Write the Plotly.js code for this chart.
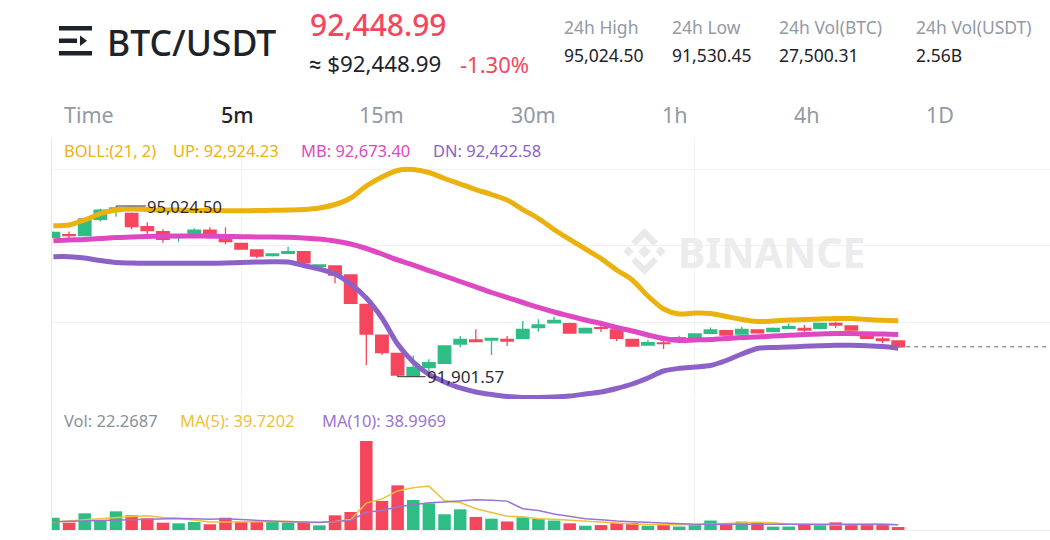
<!DOCTYPE html>
<html><head><meta charset="utf-8">
<script src="https://cdn.plot.ly/plotly-3.0.1.min.js"></script>
<style>html,body{margin:0;padding:0;background:#fff;overflow:hidden}#chart{width:1050px;height:540px}</style>
</head><body><div id="chart"></div>
<script>
// ---------- data (5m candles, oldest -> newest) ----------
const open  = [94450,94500,94481,94780,94950,94891,94646,94554,94445,94512,94585,94494,94342,94220,94115,94159,94188,93914,93927,93762,93226,92664,92330,91915,92070,92147,92500,92573,92573,92586,92604,92798,92885,92872,92706,92800,92760,92586,92481,92520,92600,92604,92696,92743,92683,92756,92725,92787,92787,92787,92878,92829,92695,92591,92555];
const high  = [94560,94560,94800,94975,95024.5,94905,94726,94598,94510,94616,94635,94635,94350,94225,94160,94280,94195,93960,93935,93770,93230,92670,92335,92290,92220,92470,92646,92768,92610,92646,92920,92952,93000,92890,92800,92925,92770,92590,92573,92590,92650,92690,92800,92750,92816,92765,92800,92878,92847,92890,92905,92835,92700,92633,92560];
const low   = [94435,94430,94470,94740,94830,94598,94512,94353,94370,94500,94500,94324,94225,94068,94100,94150,93950,93900,93610,93230,92116,92299,91901.57,91905,92000,92140,92439,92530,92299,92463,92600,92725,92880,92690,92700,92720,92550,92455,92475,92410,92595,92600,92690,92660,92680,92700,92720,92785,92725,92780,92787,92750,92600,92512,92440];
const close = [94540,94485,94787,94950,94990,94646,94573,94415,94460,94585,94525,94371,94238,94110,94146,94188,93985,93945,93762,93244,92683,92341,91933,92074,92160,92463,92586,92542,92604,92555,92769,92847,92930,92700,92787,92787,92604,92463,92523,92505,92615,92683,92756,92664,92769,92706,92787,92816,92756,92878,92847,92756,92604,92560,92448.99];
const volume = [92,55,125,75,140,110,88,55,50,60,43,92,60,60,60,55,60,35,110,135,668,218,335,225,200,118,155,98,85,64,95,84,71,50,32,37,53,53,32,37,26,45,71,50,63,58,25.4,26,45,37,57,40,39,40.3,22.2687];
const bollUp  = [94664,94677,94768,94887,94951,94970,94960,94951,94951,94942,94942,94938,94938,94942,94946,94951,94960,94988,95052,95171,95390,95555,95674,95692,95637,95528,95427,95326,95235,95134,94960,94796,94595,94412,94238,94064,93854,93671,93378,93140,93049,93067,93058,93003,92948,92911,92921,92939,92948,92957,92966,92966,92948,92933,92924.23];
const bollMid = [94390,94402,94412,94430,94448,94457,94467,94472,94476,94476,94472,94467,94463,94457,94457,94452,94439,94421,94384,94329,94247,94146,94037,93945,93844,93744,93643,93543,93442,93351,93259,93168,93085,93012,92939,92875,92802,92738,92665,92600,92564,92573,92582,92600,92619,92628,92646,92659,92674,92683,92692,92692,92686,92683,92673.40];
const bollDn  = [94097,94097,94073,94027,93991,93982,93976,93976,93976,93976,93976,93982,93991,94000,94005,94000,93936,93872,93780,93598,93341,92976,92500,92170,91942,91805,91695,91622,91576,91539,91521,91521,91530,91548,91585,91622,91686,91768,91878,92006,92055,92079,92106,92198,92317,92418,92436,92445,92458,92469,92476,92476,92469,92454,92422.58];
const volMa5  = [60,68,78,88,97.4,101,107.6,93.6,88.6,72.6,59.2,60,61,63,63,65.4,59,54,64,79,201.6,233.6,293.2,316.2,329.2,219.2,206.6,159.2,131.2,104,99.4,85.2,79.8,72.8,66.4,54.8,48.6,45,41.4,42.4,40.2,38.6,42.2,45.8,51,57.4,53.5,44.5,43.5,38.3,38.1,41,43.6,42.7,39.7202];
const volMa10 = [62,65,70,74,78,82,85,86,86,85,80.1,83.8,77.3,75.8,67.8,62.3,59.5,57.5,63.5,71,133.5,146.1,173.6,190.1,204.1,210.4,219.9,226.2,223.7,216.6,159.3,145.9,119.5,102,85.2,77.1,66.9,62.4,57.1,54.4,47.5,43.6,43.6,43.6,46.7,48.8,46,43.3,44.6,44.6,47.7,47.2,44,43.1,38.9969];

const symbol = "BTC/USDT";
const changePct = "-1.30%";
const statLabels = ["24h High","24h Low","24h Vol(BTC)","24h Vol(USDT)"];
const statValues = ["95,024.50","91,530.45","27,500.31","2.56B"];
const intervals = ["Time","5m","15m","30m","1h","4h","1D"];
const activeInterval = "5m";

// ---------- helpers ----------
const n = close.length;
const candleIdx = close.map((_, i) => i);
const GREEN = '#2EBD85', RED = '#F6465D';
const C_UP = '#EBB20F', C_MB = '#DF48C3', C_DN = '#8C62C9';
const C_MA5 = '#F0C03A', C_MA10 = '#9B74D1';
const DARK = '#1E2329', GRAY = '#929AA5';
const FONT = '"Noto Sans", Roboto, "DejaVu Sans", sans-serif';
const W = 1050, H = 540;
const PX = x => x / W, PY = y => 1 - y / H;
const fmt2 = v => v.toLocaleString('en-US', {minimumFractionDigits: 2, maximumFractionDigits: 2});
const fmt4 = v => v.toFixed(4);
const volColors = close.map((c, i) => c >= open[i] ? GREEN : RED);

// ---------- traces ----------
const traces = [
  {type: 'candlestick', x: candleIdx, open, high, low, close, xaxis: 'x', yaxis: 'y',
   whiskerwidth: 0, hoverinfo: 'skip',
   increasing: {line: {color: GREEN, width: 1.3}, fillcolor: GREEN},
   decreasing: {line: {color: RED, width: 1.3}, fillcolor: RED}},
  {type: 'scatter', mode: 'lines', x: candleIdx, y: bollUp, yaxis: 'y',
   line: {color: C_UP, width: 5, shape: 'spline', smoothing: 0.8}, hoverinfo: 'skip'},
  {type: 'scatter', mode: 'lines', x: candleIdx, y: bollMid, yaxis: 'y',
   line: {color: C_MB, width: 5, shape: 'spline', smoothing: 0.8}, hoverinfo: 'skip'},
  {type: 'scatter', mode: 'lines', x: candleIdx, y: bollDn, yaxis: 'y',
   line: {color: C_DN, width: 5, shape: 'spline', smoothing: 0.8}, hoverinfo: 'skip'},
  {type: 'bar', x: candleIdx, y: volume, yaxis: 'y2', marker: {color: volColors, line: {width: 0}}, hoverinfo: 'skip'},
  {type: 'scatter', mode: 'lines', x: candleIdx, y: volMa5, yaxis: 'y2',
   line: {color: C_MA5, width: 1.5}, hoverinfo: 'skip'},
  {type: 'scatter', mode: 'lines', x: candleIdx, y: volMa10, yaxis: 'y2',
   line: {color: C_MA10, width: 1.5}, hoverinfo: 'skip'}
];

// ---------- text ----------
const ann = [];
function txt(text, x, y, size, color, weight) {
  ann.push({text, x: PX(x), y: PY(y), xref: 'paper', yref: 'paper', xanchor: 'left', yanchor: 'middle',
            showarrow: false, font: {family: FONT, size, color, weight: weight || 400}});
}
txt(symbol, 105, 42, 35.5, DARK, 500);
txt(fmt2(close[n - 1]), 308, 25, 30, RED, 500);
txt('≈ $' + fmt2(close[n - 1]), 307, 64, 22.3, DARK, 400);
txt(changePct, 458, 64, 22, RED, 400);
const statX = [562, 670, 777, 914];
statLabels.forEach((s, i) => txt(s, statX[i], 27, 17.5, GRAY));
statValues.forEach((s, i) => txt(s, statX[i], 55, 17.5, DARK));
const tabX = [62, 219, 357, 509, 660, 792, 924];
intervals.forEach((s, i) => txt(s, tabX[i], 114, 21.5, s === activeInterval ? DARK : GRAY, s === activeInterval ? 500 : 400));
// indicator legends
txt('BOLL:(21, 2)', 62, 150, 16.5, C_UP);
txt('UP: ' + fmt2(bollUp[n - 1]), 171, 150, 16.5, C_UP);
txt('MB: ' + fmt2(bollMid[n - 1]), 299, 150, 16.5, C_MB);
txt('DN: ' + fmt2(bollDn[n - 1]), 431, 150, 16.5, C_DN);
txt('Vol: ' + fmt4(volume[n - 1]), 62, 420, 16.5, '#8A919C');
txt('MA(5): ' + fmt4(volMa5[n - 1]), 178, 420, 16.5, C_MA5);
txt('MA(10): ' + fmt4(volMa10[n - 1]), 320, 420, 16.5, C_MA10);
// watermark
ann.push({text: 'BINANCE', x: PX(676), y: PY(252), xref: 'paper', yref: 'paper', xanchor: 'left', yanchor: 'middle',
          showarrow: false, font: {family: FONT, size: 41, color: '#ECECEC', weight: 700}});
// high / low markers
const hiVal = Math.max(...high), hiIdx = high.indexOf(hiVal);
const loVal = Math.min(...low), loIdx = low.indexOf(loVal);
ann.push({x: hiIdx, y: hiVal, xref: 'x', yref: 'y', text: fmt2(hiVal), showarrow: true, arrowhead: 0,
          arrowwidth: 1, arrowcolor: '#2B2F36', ax: 30, ay: 0, xanchor: 'left', yanchor: 'middle', borderpad: 0,
          font: {family: FONT, size: 16.5, color: '#2B2F36'}});
ann.push({x: loIdx, y: loVal, xref: 'x', yref: 'y', text: fmt2(loVal), showarrow: true, arrowhead: 0,
          arrowwidth: 1, arrowcolor: '#2B2F36', ax: 28, ay: 0, xanchor: 'left', yanchor: 'middle', borderpad: 0,
          font: {family: FONT, size: 17, color: '#2B2F36'}});

// ---------- decorations: menu icon + logo ----------
const shapes = [
  {type: 'rect', xref: 'paper', yref: 'paper', x0: PX(59), x1: PX(92), y0: PY(30.5), y1: PY(26), fillcolor: DARK, line: {width: 0}},
  {type: 'rect', xref: 'paper', yref: 'paper', x0: PX(59), x1: PX(77), y0: PY(43), y1: PY(38.5), fillcolor: DARK, line: {width: 0}},
  {type: 'path', xref: 'paper', yref: 'paper', path: `M ${PX(80)} ${PY(35.5)} L ${PX(87)} ${PY(40.75)} L ${PX(80)} ${PY(46)} Z`, fillcolor: DARK, line: {width: 0}},
  {type: 'rect', xref: 'paper', yref: 'paper', x0: PX(59), x1: PX(92), y0: PY(55.5), y1: PY(51), fillcolor: DARK, line: {width: 0}},
  // last price dashed line
  {type: 'line', xref: 'x', yref: 'y', x0: n - 1, x1: 63.7, y0: close[n - 1], y1: close[n - 1],
   line: {color: '#5E6673', width: 1, dash: '4px,4px'}, layer: 'below'}
];
const logoSvg = '<svg xmlns="http://www.w3.org/2000/svg" viewBox="0 0 126 126"><g fill="#E9E9E9">' +
  '<path d="M63 0 L99 36 L87 48 L63 24 L39 48 L27 36 Z"/>' +
  '<path d="M63 126 L99 90 L87 78 L63 102 L39 78 L27 90 Z"/>' +
  '<path d="M63 46 L80 63 L63 80 L46 63 Z"/>' +
  '<path d="M6 63 L20 49 L34 63 L20 77 Z"/>' +
  '<path d="M92 63 L106 49 L120 63 L106 77 Z"/></g></svg>';

const gridC = '#F0F1F2';
const layout = {
  width: W, height: H, margin: {l: 0, r: 0, t: 0, b: 0},
  paper_bgcolor: '#fff', plot_bgcolor: '#fff', showlegend: false,
  boxgap: 0.2, boxgroupgap: 0, bargap: 0.2,
  font: {family: FONT},
  xaxis: {domain: [PX(52), 1], range: [-0.09, 63.7], anchor: 'y2', tickvals: [12, 41], showticklabels: false,
          showgrid: true, gridcolor: gridC, zeroline: false, showline: true, linecolor: '#EDEEF0', ticks: '',
          rangeslider: {visible: false}, fixedrange: true},
  yaxis: {domain: [PY(399), PY(138)], range: [91493.6, 96268.6], tickvals: [91500, 92900, 94300, 95700],
          showticklabels: false, showgrid: true, gridcolor: gridC, zeroline: false, showline: true,
          linecolor: '#E6E8EA', ticks: '', fixedrange: true},
  yaxis2: {domain: [PY(530), PY(400)], range: [0, 975], showticklabels: false, showgrid: false, zeroline: false,
           showline: true, linecolor: '#E6E8EA', ticks: '', fixedrange: true},
  annotations: ann,
  shapes: shapes,
  images: [{source: 'data:image/svg+xml;charset=utf-8,' + encodeURIComponent(logoSvg), xref: 'paper', yref: 'paper',
            x: PX(621), y: PY(228), sizex: 47 / W, sizey: 47 / H, xanchor: 'left', yanchor: 'top', sizing: 'stretch', layer: 'below'}]
};

Plotly.newPlot('chart', traces, layout, {displayModeBar: false, staticPlot: true});
</script>
</body></html>
